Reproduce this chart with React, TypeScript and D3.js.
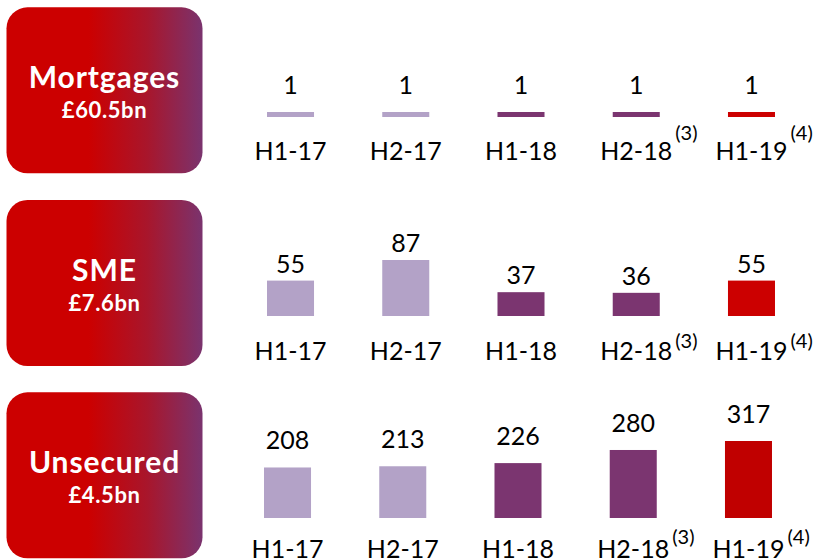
import React from "react";
import * as d3 from "d3";

const periods = ["H1-17", "H2-17", "H1-18", "H2-18", "H1-19"];
const footnotes = ["", "", "", "(3)", "(4)"];
const segments = ["Mortgages", "SME", "Unsecured"];
const balances = ["£60.5bn", "£7.6bn", "£4.5bn"];
const mortgageValues = [1, 1, 1, 1, 1];
const smeValues = [55, 87, 37, 36, 55];
const unsecuredValues = [208, 213, 226, 280, 317];
const barColors = ["#B3A2C7", "#B3A2C7", "#7B3570", "#7B3570", "#CC0000"];

const W = 817;
const H = 560;
const FONT = "Lato, 'Open Sans', sans-serif";

// layout per panel (styles only)
const panels = [
  { values: mortgageValues, top: 7.3, baseline: 117, maxPx: 5, labelGap: 18, catBaseline: 160, supDy: -20, dx: 0, lastColor: "#CC0000" },
  { values: smeValues, top: 200, baseline: 316, maxPx: 56, labelGap: 8, catBaseline: 360, supDy: -12, dx: 0, lastColor: "#CC0000" },
  { values: unsecuredValues, top: 392.3, baseline: 518, maxPx: 77, labelGap: 18, catBaseline: 558, supDy: -14, dx: -3, lastColor: "#C00000" },
];

export default function App() {
  const x = d3
    .scaleBand<string>()
    .domain(periods)
    .range([232.9, 809.1])
    .paddingInner(0.592)
    .paddingOuter(0.296);

  return (
    <svg
      width={W}
      height={H}
      viewBox={`0 0 ${W} ${H}`}
      style={{ position: "absolute", left: 0, top: 0, background: "#fff" }}
      fontFamily={FONT}
    >
      <defs>
        <linearGradient id="boxGrad" x1="0" x2="1" y1="0" y2="0">
          <stop offset="0" stopColor="#CC0000" />
          <stop offset="0.42" stopColor="#CC0000" />
          <stop offset="0.72" stopColor="#A8162C" />
          <stop offset="1" stopColor="#7A336E" />
        </linearGradient>
      </defs>
      {panels.map((p, pi) => {
        const maxV = d3.max(p.values) as number;
        const y = d3
          .scaleLinear()
          .domain([0, maxV])
          .range([p.baseline, p.baseline - p.maxPx]);
        return (
          <g key={segments[pi]}>
            <rect x={6.5} y={p.top} width={196} height={166} rx={21} ry={21} fill="url(#boxGrad)" />
            <text x={104.5} y={p.top + 81} textAnchor="middle" fill="#fff" fontWeight={700} fontSize={30} letterSpacing={0.9}>
              {segments[pi]}
            </text>
            <text x={104.5} y={p.top + 111} textAnchor="middle" fill="#fff" fontWeight={700} fontSize={22} letterSpacing={0.6}>
              {balances[pi]}
            </text>
            {periods.map((per, i) => {
              const bx = (x(per) as number) + p.dx;
              const cx = bx + x.bandwidth() / 2;
              const v = p.values[i];
              const color = i === periods.length - 1 ? p.lastColor : barColors[i];
              return (
                <g key={per}>
                  <rect x={bx} y={y(v)} width={x.bandwidth()} height={p.baseline - y(v)} fill={color} />
                  <text x={cx} y={y(v) - p.labelGap} textAnchor="middle" fontSize={25} fill="#000">
                    {v}
                  </text>
                  <text x={cx} y={p.catBaseline} textAnchor="middle" fontSize={25} fill="#000">
                    {per}
                  </text>
                  {footnotes[i] && (
                    <text x={cx + 39} y={p.catBaseline + p.supDy} fontSize={20} fill="#000">
                      {footnotes[i]}
                    </text>
                  )}
                </g>
              );
            })}
          </g>
        );
      })}
    </svg>
  );
}
